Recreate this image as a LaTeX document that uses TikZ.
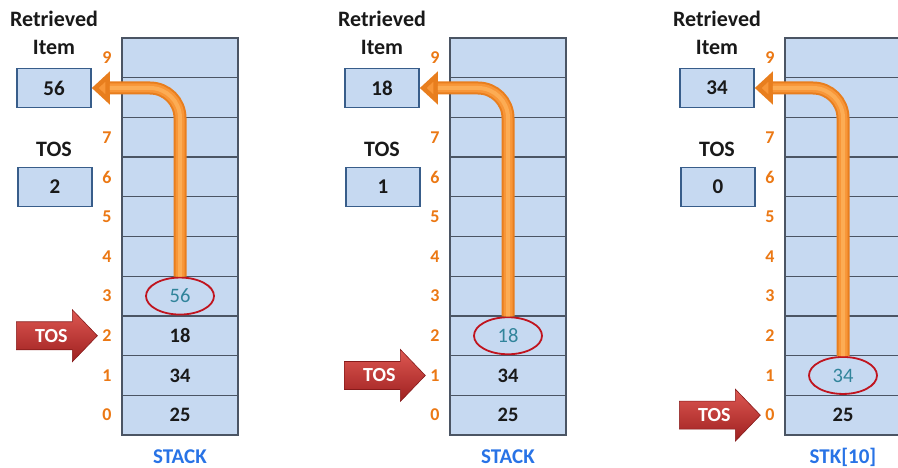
\documentclass[tikz,border=0pt]{standalone}
\usepackage{fontspec}
\setmainfont{Carlito}
\usetikzlibrary{shapes.geometric,arrows.meta,calc}
\definecolor{cellfill}{RGB}{198,217,241}
\definecolor{cellline}{RGB}{75,85,100}
\definecolor{boxline}{RGB}{56,93,138}
\definecolor{idxorange}{RGB}{235,120,20}
\definecolor{arrowdark}{RGB}{232,126,30}
\definecolor{arrowmid}{RGB}{248,150,56}
\definecolor{arrowlight}{RGB}{252,172,84}
\definecolor{circtext}{RGB}{49,132,155}
\definecolor{ellred}{RGB}{192,20,30}
\definecolor{tosredA}{RGB}{222,88,82}
\definecolor{tosredB}{RGB}{158,32,32}
\definecolor{stackblue}{RGB}{40,115,230}
\tikzset{
  cell/.style={rectangle, draw=cellline, fill=cellfill, line width=1.3pt,
    minimum width=116pt, minimum height=39.7pt, inner sep=0pt},
  valtext/.style={font=\fontsize{20.5}{22}\selectfont\bfseries, text=black!90, inner sep=0pt},
  idx/.style={font=\fontsize{18}{20}\selectfont\bfseries, text=idxorange, inner sep=0pt},
  lbl/.style={font=\fontsize{22}{24}\selectfont\bfseries, text=black!90, inner sep=0pt, anchor=base},
  valbox/.style={rectangle, draw=boxline, fill=cellfill, line width=1.6pt,
    minimum width=74pt, minimum height=39pt, inner sep=0pt,
    font=\fontsize{21}{23}\selectfont\bfseries, text=black!90},
  circ/.style={ellipse, draw=ellred, line width=1.8pt, minimum width=68pt,
    minimum height=37pt, inner sep=0pt, text=circtext,
    font=\fontsize{20.5}{22}\selectfont},
  stacklbl/.style={font=\fontsize{21}{23}\selectfont\bfseries, text=stackblue,
    inner sep=0pt, anchor=base},
  orarrow/.style={draw=arrowdark, fill=arrowmid, line width=13pt, rounded corners=30pt,
    -{Triangle[length=18pt,width=32pt,fill=arrowmid]}},
  ormid/.style={draw=arrowmid, line width=9pt, rounded corners=30pt, shorten >=18pt},
  orhl/.style={draw=arrowlight, line width=4pt, rounded corners=30pt, shorten >=18pt},
  tostext/.style={font=\fontsize{20}{22}\selectfont\bfseries, text=white, inner sep=0pt}
}
% #1 x offset, #2 panel id, #3 retrieved value, #4 TOS value, #5 circled index, #6 label
\newcommand{\mypanel}[6]{%
  \foreach \k in {0,...,9} {\node[cell] (c#2-\k) at (#1+180, 415.15-39.7*\k) {};}
  \foreach \k in {0,1,2,3,4,5,6,7,9} {\node[idx] (i#2-\k) at (#1+107, 415.15-39.7*\k) {\k};}
  \foreach \v [count=\k from 0] in {25,34,18} {%
    \ifnum\k<#5\relax \node[valtext] (v#2-\k) at (c#2-\k) {\v};\fi}
  \node[lbl] (rt#2) at (#1+54,27) {Retrieved};
  \node[lbl] (it#2) at (#1+54,55) {Item};
  \node[valbox] (r#2) at (#1+54,88) {#3};
  \node[lbl] (tl#2) at (#1+54,157) {TOS};
  \node[valbox] (t#2) at (#1+55,187) {#4};
  \node[stacklbl] (s#2) at (#1+180,463) {#6};
  \node[circ] (e#2) at (c#2-#5) {#3};
  \draw[orarrow, fill=none] (e#2.north) |- (r#2.east);
  \draw[ormid] (e#2.north) |- (r#2.east);
  \draw[orhl] (e#2.north) |- (r#2.east);
  \coordinate (tip#2) at ($(c#2-#4.west)+(-24,0)$);
  \shade[top color=tosredA, bottom color=tosredB, draw=tosredB!85!black, line width=0.6pt]
    ($(tip#2)+(-81,-14)$) -- ++(56,0) -- ++(0,-12) -- (tip#2) -- ++(-25,26)
    -- ++(0,-12) -- ++(-56,0) -- cycle;
  \node[tostext] (tt#2) at ($(tip#2)+(-46,0)$) {TOS};
}
\begin{document}
\begin{tikzpicture}[x=1pt,y=-1pt]
\useasboundingbox (0,0) rectangle (898,468);
\clip (0,0) rectangle (898,468);
\mypanel{0}{1}{56}{2}{3}{STACK}
\mypanel{328}{2}{18}{1}{2}{STACK}
\mypanel{663}{3}{34}{0}{1}{STK[10]}
\end{tikzpicture}
\end{document}
